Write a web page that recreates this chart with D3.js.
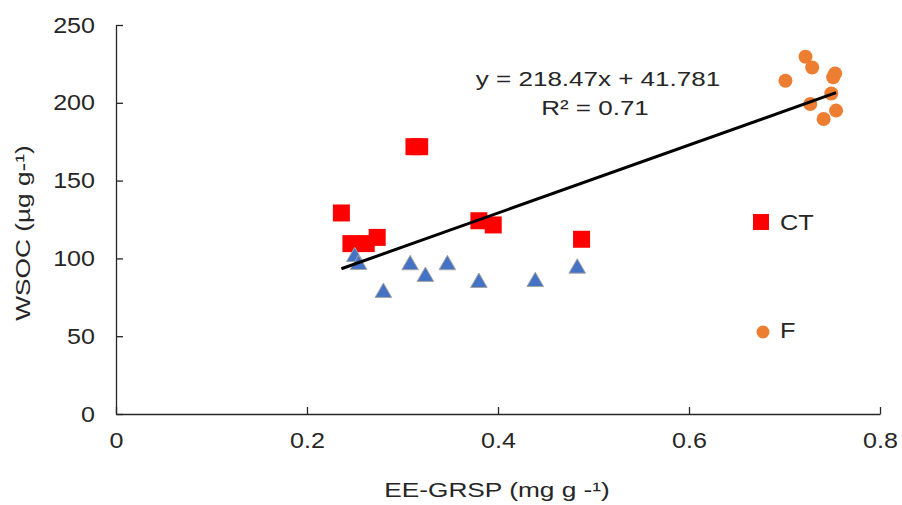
<!DOCTYPE html>
<html>
<head>
<meta charset="utf-8">
<script src="https://cdn.jsdelivr.net/npm/d3@7"></script>
<style>
  html, body { margin: 0; padding: 0; background: #fff; }
  svg text { font-family: "Liberation Sans", Arial, sans-serif; fill: #262626; }
</style>
</head>
<body>
<svg id="chart" width="902" height="505"></svg>
<script>
// ---- data ----
const ctX = [0.236, 0.246, 0.262, 0.2735, 0.312, 0.318, 0.380, 0.395, 0.4875];
const ctY = [129.2, 109.5, 109.5, 113.5, 171.8, 171.8, 124.2, 121.5, 112.3];
const triX = [0.250, 0.254, 0.280, 0.308, 0.324, 0.347, 0.380, 0.439, 0.483];
const triY = [101, 96, 78, 95.8, 88.3, 95.8, 84.4, 85, 93.6];
const fX = [0.701, 0.722, 0.729, 0.727, 0.741, 0.749, 0.751, 0.753, 0.754];
const fY = [214.2, 229.6, 222.7, 199.2, 189.6, 206, 216.4, 218.9, 195];
const xTicks = [0, 0.2, 0.4, 0.6, 0.8];
const yTicks = [0, 50, 100, 150, 200, 250];
const slope = 218.47, intercept = 41.781;
const fitRange = [0.236, 0.754];
const eqText = "y = 218.47x + 41.781";
const r2Text = "R² = 0.71";
const legendNames = ["CT", "F"];

// ---- layout ----
const svg = d3.select("#chart");
const x = d3.scaleLinear().domain([0, 0.8]).range([116, 880]);
const y = d3.scaleLinear().domain([0, 250]).range([414, 25]);

// widen glyphs horizontally (reference text is stretched)
function stretch(sel, f) {
  sel.each(function () {
    const w = this.getComputedTextLength();
    d3.select(this).attr("textLength", w * f).attr("lengthAdjust", "spacingAndGlyphs");
  });
}

// axes
const gx = svg.append("g").attr("transform", "translate(0,414)")
  .call(d3.axisBottom(x).tickValues(xTicks).tickSize(-7).tickSizeOuter(0).tickPadding(18)
        .tickFormat(d => d === 0 ? "0" : d3.format(".1f")(d)));
const gy = svg.append("g").attr("transform", "translate(116,0)")
  .call(d3.axisLeft(y).tickValues(yTicks).tickSize(-7).tickSizeOuter(0).tickPadding(21));
[gx, gy].forEach(g => {
  g.select(".domain").attr("stroke", "#262626").attr("stroke-width", 1.3);
  g.selectAll(".tick line").attr("stroke", "#262626").attr("stroke-width", 1.3);
  g.selectAll(".tick text").attr("font-size", 22).attr("fill", "#262626")
    .style("font-family", "'Liberation Sans', Arial, sans-serif");
  stretch(g.selectAll(".tick text"), 1.14);
});

// axis titles
stretch(svg.append("text").attr("x", 497).attr("y", 497).attr("text-anchor", "middle")
  .attr("font-size", 21).text("EE-GRSP  (mg g  -¹)"), 1.25);
stretch(svg.append("text").attr("transform", "translate(30,233) rotate(-90)").attr("text-anchor", "middle")
  .attr("font-size", 21).text("WSOC (µg g-¹)"), 1.25);

// CT squares
const sq = 17;
svg.append("g").selectAll("rect").data(ctX.map((d, i) => [d, ctY[i]])).join("rect")
  .attr("x", d => x(d[0]) - sq / 2).attr("y", d => y(d[1]) - sq / 2)
  .attr("width", sq).attr("height", sq).attr("fill", "#FF0000");

// triangles
const tri = d3.symbol().type(d3.symbolTriangle).size(120);
svg.append("g").selectAll("path").data(triX.map((d, i) => [d, triY[i]])).join("path")
  .attr("d", tri).attr("transform", d => `translate(${x(d[0])},${y(d[1])})`)
  .attr("fill", "#4472C4").attr("stroke", "#A5A5A5").attr("stroke-width", 1);

// F circles
svg.append("g").selectAll("circle").data(fX.map((d, i) => [d, fY[i]])).join("circle")
  .attr("cx", d => x(d[0])).attr("cy", d => y(d[1])).attr("r", 7).attr("fill", "#ED7D31");

// trendline
svg.append("line")
  .attr("x1", x(fitRange[0])).attr("y1", y(slope * fitRange[0] + intercept))
  .attr("x2", x(fitRange[1])).attr("y2", y(slope * fitRange[1] + intercept))
  .attr("stroke", "#000").attr("stroke-width", 3);

// equation
stretch(svg.append("text").attr("x", 598).attr("y", 86).attr("text-anchor", "middle")
  .attr("font-size", 20).text(eqText), 1.3);
stretch(svg.append("text").attr("x", 595).attr("y", 115).attr("text-anchor", "middle")
  .attr("font-size", 20).text(r2Text), 1.3);

// legend
svg.append("rect").attr("x", 761 - 8).attr("y", 222 - 8).attr("width", 16).attr("height", 16).attr("fill", "#FF0000");
stretch(svg.append("text").attr("x", 780).attr("y", 230).attr("font-size", 22).text(legendNames[0]), 1.15);
svg.append("circle").attr("cx", 763).attr("cy", 332).attr("r", 6.5).attr("fill", "#ED7D31");
stretch(svg.append("text").attr("x", 780).attr("y", 338).attr("font-size", 22).text(legendNames[1]), 1.15);
</script>
</body>
</html>
